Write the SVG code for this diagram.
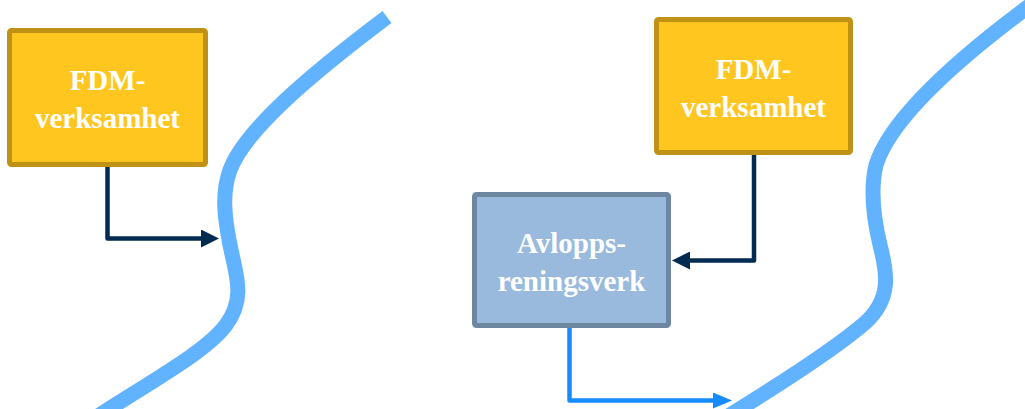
<svg xmlns="http://www.w3.org/2000/svg" width="1025" height="409" viewBox="0 0 1025 409">
  <style>
    .river { fill: none; stroke: #62b3ff; stroke-width: 15; stroke-linecap: butt; stroke-linejoin: round; }
    .fdm rect { fill: #ffc61f; stroke: #bf9216; stroke-width: 5; }
    .arv rect { fill: #99badd; stroke: #6e87a1; stroke-width: 5; }
    .lbl { font-family: "Liberation Serif", "Times New Roman", serif; font-weight: bold; font-size: 29px; fill: #ffffff; text-anchor: middle; }
    .dark { fill: none; stroke: #022b52; stroke-width: 4.5; stroke-linejoin: round; }
    .blue { fill: none; stroke: #168bff; stroke-width: 4.5; stroke-linejoin: round; }
  </style>
  <defs>
    <marker id="ahDark" markerUnits="userSpaceOnUse" markerWidth="18" markerHeight="18" refX="8" refY="9" orient="auto">
      <path d="M0,0 L18,9 L0,18 z" fill="#022b52"/>
    </marker>
    <marker id="ahBlue" markerUnits="userSpaceOnUse" markerWidth="19" markerHeight="16" refX="9" refY="8" orient="auto">
      <path d="M0,0 L19,8 L0,16 z" fill="#168bff"/>
    </marker>
  </defs>

  <g id="rivers">
    <path id="river-left" class="river" d="M387 17 C310 75, 245 130, 230 170 C222 192, 224 215, 230 245 C236 275, 246 298, 226 325 C206 352, 150 382, 95 418"/>
    <path id="river-right" class="river" d="M1040 -2 C955 60, 890 120, 876 165 C870 190, 874 220, 880 245 C887 272, 892 298, 866 322 C840 345, 790 378, 725 418"/>
  </g>

  <g id="connectors">
    <path id="c1" class="dark" d="M107.5 167 V238.5 H209" marker-end="url(#ahDark)"/>
    <path id="c2" class="dark" d="M754 155 V260.5 H682" marker-end="url(#ahDark)"/>
    <path id="c3" class="blue" d="M569.5 328 V400.5 H722" marker-end="url(#ahBlue)"/>
  </g>

  <g id="fdm-left" class="fdm">
    <rect x="9.5" y="30.5" width="196" height="134" rx="2"/>
    <text class="lbl" x="107.5" y="90">FDM-</text>
    <text class="lbl" x="107.5" y="128">verksamhet</text>
  </g>

  <g id="fdm-right" class="fdm">
    <rect x="656.5" y="19.5" width="194" height="133" rx="2"/>
    <text class="lbl" x="753.5" y="79">FDM-</text>
    <text class="lbl" x="753.5" y="117">verksamhet</text>
  </g>

  <g id="avlopp" class="arv">
    <rect x="474.5" y="194.5" width="194" height="131" rx="2"/>
    <text class="lbl" x="571.5" y="253">Avlopps-</text>
    <text class="lbl" x="571.5" y="291">reningsverk</text>
  </g>
</svg>
